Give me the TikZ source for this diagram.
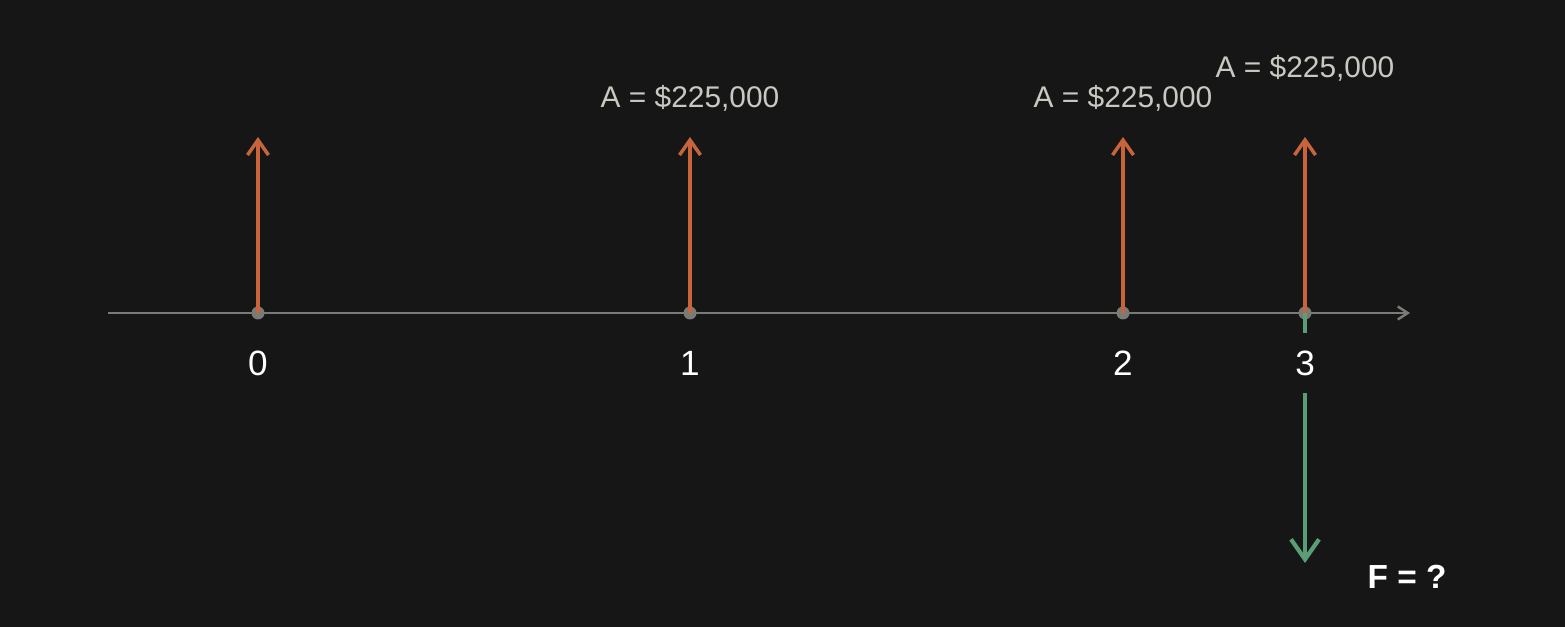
\documentclass[tikz,border=0pt]{standalone}
\usepackage{fontspec}
\setmainfont{Liberation Sans}
\usepackage{xcolor}
\usetikzlibrary{arrows.meta}
\definecolor{bg}{HTML}{161616}
\definecolor{axisgrey}{HTML}{7B7B76}
\definecolor{flowred}{HTML}{C8643C}
\definecolor{flowgreen}{HTML}{5A9E78}
\definecolor{labelgrey}{HTML}{C9C9C1}

\begin{document}
\begin{tikzpicture}
\tikzset{>={Straight Barb[width=2.1mm,length=1.5mm]}}
\tikzstyle{tick} =[circle, fill = axisgrey,inner sep=0pt,minimum size=1.3mm]
\tikzstyle{period} =[fill = bg, text=white, font=\fontsize{10}{12}\selectfont, inner sep=0pt, minimum height=6mm, minimum width=4mm]
\tikzstyle{amount} =[text=labelgrey, font=\fontsize{8.5}{10}\selectfont, inner sep=0pt]
\tikzstyle{result} =[text=white, font=\bfseries\fontsize{9.5}{12}\selectfont, inner sep=0pt]
\tikzstyle{inflow} =[->, draw=flowred, line width=1pt]
\tikzstyle{outflow} =[-{Straight Barb[width=2.8mm,length=2mm]}, draw=flowgreen, line width=1.2pt]

\fill[bg] (0,0) rectangle (15.65,6.27);
\useasboundingbox (0,0) rectangle (15.65,6.27);

% time axis
\coordinate (s) at (1.08,3.14);
\coordinate (e) at (14.10,3.14);
\draw[axisgrey, line width=0.7pt, -{Straight Barb[width=1.3mm,length=1mm]}] (s) -- (e);

\node[tick](v0) at (2.58,3.14){};
\node[tick](v1) at (6.90,3.14){};
\node[tick](v2) at (11.23,3.14){};
\node[tick](v3) at (13.05,3.14){};

% payments
\coordinate (a0) at (2.58,4.90);
\coordinate (a1) at (6.90,4.90);
\coordinate (a2) at (11.23,4.90);
\coordinate (a3) at (13.05,4.90);
\draw[inflow] (v0.center) -- (a0);
\draw[inflow] (v1.center) -- (a1);
\draw[inflow] (v2.center) -- (a2);
\draw[inflow] (v3.center) -- (a3);

\coordinate (f3) at (13.05,0.64);
\draw[outflow] (v3.center) -- (f3);

\node[period](p0) at (2.58,2.64){0};
\node[period](p1) at (6.90,2.64){1};
\node[period](p2) at (11.23,2.64){2};
\node[period](p3) at (13.05,2.64){3};

\node[amount](l1) at (6.90,5.29){A = \$225,000};
\node[amount](l2) at (11.23,5.29){A = \$225,000};
\node[amount](l3) at (13.05,5.59){A = \$225,000};

\node[result](fq) at (14.07,0.50){F = ?};
\end{tikzpicture}
\end{document}
